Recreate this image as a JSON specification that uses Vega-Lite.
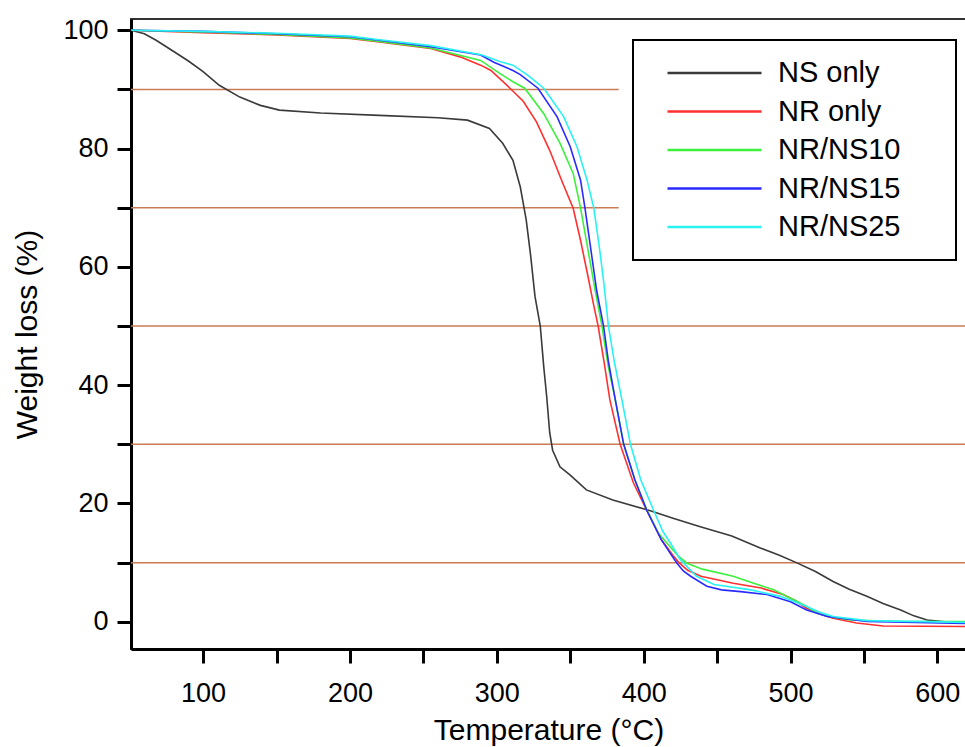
{
  "$schema": "https://vega.github.io/schema/vega-lite/v6.json",
  "width": 835,
  "height": 630,
  "autosize": "none",
  "padding": {"left": 131, "top": 19, "right": 0, "bottom": 98},
  "background": "white",
  "config": {
    "font": "Liberation Sans",
    "view": {"stroke": "#333333", "strokeWidth": 2}
  },
  "datasets": {
    "guides": [
      {"level": 90, "from": 50.9, "to": 383},
      {"level": 70, "from": 50.9, "to": 383},
      {"level": 50, "from": 50.9, "to": 619.5},
      {"level": 30, "from": 50.9, "to": 619.5},
      {"level": 10, "from": 50.9, "to": 619.5}
    ],
    "tga": [
      {"series": "NS only", "temp": 51, "weight": 100},
      {"series": "NS only", "temp": 60, "weight": 99.4},
      {"series": "NS only", "temp": 68, "weight": 98.3},
      {"series": "NS only", "temp": 80, "weight": 96.4},
      {"series": "NS only", "temp": 90, "weight": 94.8},
      {"series": "NS only", "temp": 100, "weight": 93.0},
      {"series": "NS only", "temp": 111, "weight": 90.7},
      {"series": "NS only", "temp": 125, "weight": 88.7},
      {"series": "NS only", "temp": 139, "weight": 87.3},
      {"series": "NS only", "temp": 152, "weight": 86.5},
      {"series": "NS only", "temp": 180, "weight": 86.0},
      {"series": "NS only", "temp": 220, "weight": 85.6},
      {"series": "NS only", "temp": 260, "weight": 85.2},
      {"series": "NS only", "temp": 280, "weight": 84.8},
      {"series": "NS only", "temp": 295, "weight": 83.4},
      {"series": "NS only", "temp": 304, "weight": 80.9},
      {"series": "NS only", "temp": 311, "weight": 78.0},
      {"series": "NS only", "temp": 316, "weight": 73.5},
      {"series": "NS only", "temp": 320, "weight": 68.0},
      {"series": "NS only", "temp": 323, "weight": 62.0},
      {"series": "NS only", "temp": 326, "weight": 55.0},
      {"series": "NS only", "temp": 329.6, "weight": 50.0},
      {"series": "NS only", "temp": 332, "weight": 43.0},
      {"series": "NS only", "temp": 334, "weight": 38.0},
      {"series": "NS only", "temp": 336, "weight": 32.0},
      {"series": "NS only", "temp": 338, "weight": 29.0},
      {"series": "NS only", "temp": 343, "weight": 26.2},
      {"series": "NS only", "temp": 350, "weight": 24.8},
      {"series": "NS only", "temp": 361, "weight": 22.3},
      {"series": "NS only", "temp": 379, "weight": 20.6},
      {"series": "NS only", "temp": 404, "weight": 18.8},
      {"series": "NS only", "temp": 420, "weight": 17.5},
      {"series": "NS only", "temp": 438, "weight": 16.1},
      {"series": "NS only", "temp": 460, "weight": 14.5},
      {"series": "NS only", "temp": 479, "weight": 12.5},
      {"series": "NS only", "temp": 492, "weight": 11.3},
      {"series": "NS only", "temp": 504, "weight": 10.0},
      {"series": "NS only", "temp": 517, "weight": 8.5},
      {"series": "NS only", "temp": 529, "weight": 6.8},
      {"series": "NS only", "temp": 540, "weight": 5.5},
      {"series": "NS only", "temp": 552, "weight": 4.3},
      {"series": "NS only", "temp": 563, "weight": 3.1},
      {"series": "NS only", "temp": 575, "weight": 2.0},
      {"series": "NS only", "temp": 584, "weight": 1.0},
      {"series": "NS only", "temp": 593, "weight": 0.3},
      {"series": "NS only", "temp": 605, "weight": 0.0},
      {"series": "NS only", "temp": 619, "weight": -0.2},

      {"series": "NR only", "temp": 51, "weight": 100},
      {"series": "NR only", "temp": 100, "weight": 99.6},
      {"series": "NR only", "temp": 150, "weight": 99.2},
      {"series": "NR only", "temp": 200, "weight": 98.6},
      {"series": "NR only", "temp": 220, "weight": 98.0},
      {"series": "NR only", "temp": 255, "weight": 96.9},
      {"series": "NR only", "temp": 275, "weight": 95.5},
      {"series": "NR only", "temp": 289, "weight": 94.1},
      {"series": "NR only", "temp": 296, "weight": 93.2},
      {"series": "NR only", "temp": 309, "weight": 90.2},
      {"series": "NR only", "temp": 318, "weight": 88.0},
      {"series": "NR only", "temp": 327, "weight": 84.5},
      {"series": "NR only", "temp": 336, "weight": 79.7},
      {"series": "NR only", "temp": 345, "weight": 74.1},
      {"series": "NR only", "temp": 352, "weight": 69.9},
      {"series": "NR only", "temp": 357, "weight": 64.5},
      {"series": "NR only", "temp": 362, "weight": 58.5},
      {"series": "NR only", "temp": 366, "weight": 53.5},
      {"series": "NR only", "temp": 369, "weight": 50.0},
      {"series": "NR only", "temp": 373, "weight": 44.0},
      {"series": "NR only", "temp": 377, "weight": 37.5},
      {"series": "NR only", "temp": 384, "weight": 30.0},
      {"series": "NR only", "temp": 393, "weight": 23.5},
      {"series": "NR only", "temp": 402, "weight": 18.9},
      {"series": "NR only", "temp": 412, "weight": 13.9},
      {"series": "NR only", "temp": 420, "weight": 11.2},
      {"series": "NR only", "temp": 424, "weight": 10.0},
      {"series": "NR only", "temp": 430, "weight": 8.7},
      {"series": "NR only", "temp": 439, "weight": 7.7},
      {"series": "NR only", "temp": 461, "weight": 6.5},
      {"series": "NR only", "temp": 480, "weight": 5.7},
      {"series": "NR only", "temp": 495, "weight": 4.6},
      {"series": "NR only", "temp": 503, "weight": 3.6},
      {"series": "NR only", "temp": 511, "weight": 2.3},
      {"series": "NR only", "temp": 520, "weight": 1.3},
      {"series": "NR only", "temp": 529, "weight": 0.6},
      {"series": "NR only", "temp": 545, "weight": -0.2},
      {"series": "NR only", "temp": 563, "weight": -0.7},
      {"series": "NR only", "temp": 619, "weight": -0.8},

      {"series": "NR/NS10", "temp": 51, "weight": 100},
      {"series": "NR/NS10", "temp": 100, "weight": 99.7},
      {"series": "NR/NS10", "temp": 150, "weight": 99.3},
      {"series": "NR/NS10", "temp": 200, "weight": 98.7},
      {"series": "NR/NS10", "temp": 220, "weight": 98.1},
      {"series": "NR/NS10", "temp": 255, "weight": 97.0},
      {"series": "NR/NS10", "temp": 289, "weight": 94.9},
      {"series": "NR/NS10", "temp": 302, "weight": 92.7},
      {"series": "NR/NS10", "temp": 311, "weight": 91.3},
      {"series": "NR/NS10", "temp": 319, "weight": 90.2},
      {"series": "NR/NS10", "temp": 332, "weight": 85.9},
      {"series": "NR/NS10", "temp": 343, "weight": 80.9},
      {"series": "NR/NS10", "temp": 352, "weight": 75.8},
      {"series": "NR/NS10", "temp": 357, "weight": 70.0},
      {"series": "NR/NS10", "temp": 362, "weight": 63.0},
      {"series": "NR/NS10", "temp": 367, "weight": 56.0},
      {"series": "NR/NS10", "temp": 371.6, "weight": 50.0},
      {"series": "NR/NS10", "temp": 376, "weight": 43.0},
      {"series": "NR/NS10", "temp": 380.7, "weight": 37.5},
      {"series": "NR/NS10", "temp": 386.4, "weight": 30.0},
      {"series": "NR/NS10", "temp": 394, "weight": 24.0},
      {"series": "NR/NS10", "temp": 402, "weight": 19.0},
      {"series": "NR/NS10", "temp": 410, "weight": 15.0},
      {"series": "NR/NS10", "temp": 418, "weight": 12.7},
      {"series": "NR/NS10", "temp": 424, "weight": 11.0},
      {"series": "NR/NS10", "temp": 429.5, "weight": 9.9},
      {"series": "NR/NS10", "temp": 440, "weight": 8.9},
      {"series": "NR/NS10", "temp": 461, "weight": 7.7},
      {"series": "NR/NS10", "temp": 475, "weight": 6.5},
      {"series": "NR/NS10", "temp": 488.5, "weight": 5.4},
      {"series": "NR/NS10", "temp": 497.6, "weight": 4.3},
      {"series": "NR/NS10", "temp": 504, "weight": 3.5},
      {"series": "NR/NS10", "temp": 511, "weight": 2.6},
      {"series": "NR/NS10", "temp": 518, "weight": 1.5},
      {"series": "NR/NS10", "temp": 528, "weight": 0.8},
      {"series": "NR/NS10", "temp": 541, "weight": 0.3},
      {"series": "NR/NS10", "temp": 575, "weight": 0.05},
      {"series": "NR/NS10", "temp": 619, "weight": 0.05},

      {"series": "NR/NS15", "temp": 51, "weight": 100},
      {"series": "NR/NS15", "temp": 100, "weight": 99.8},
      {"series": "NR/NS15", "temp": 150, "weight": 99.4},
      {"series": "NR/NS15", "temp": 200, "weight": 98.9},
      {"series": "NR/NS15", "temp": 220, "weight": 98.3},
      {"series": "NR/NS15", "temp": 255, "weight": 97.2},
      {"series": "NR/NS15", "temp": 289, "weight": 95.8},
      {"series": "NR/NS15", "temp": 298, "weight": 94.6},
      {"series": "NR/NS15", "temp": 311, "weight": 93.2},
      {"series": "NR/NS15", "temp": 316, "weight": 92.5},
      {"series": "NR/NS15", "temp": 328, "weight": 90.2},
      {"series": "NR/NS15", "temp": 341, "weight": 85.4},
      {"series": "NR/NS15", "temp": 350, "weight": 80.3},
      {"series": "NR/NS15", "temp": 357, "weight": 74.7},
      {"series": "NR/NS15", "temp": 360, "weight": 70.0},
      {"series": "NR/NS15", "temp": 364, "weight": 63.0},
      {"series": "NR/NS15", "temp": 368, "weight": 56.0},
      {"series": "NR/NS15", "temp": 372.7, "weight": 50.0},
      {"series": "NR/NS15", "temp": 376, "weight": 44.0},
      {"series": "NR/NS15", "temp": 380.7, "weight": 37.5},
      {"series": "NR/NS15", "temp": 386.4, "weight": 30.0},
      {"series": "NR/NS15", "temp": 394, "weight": 24.0},
      {"series": "NR/NS15", "temp": 402, "weight": 18.9},
      {"series": "NR/NS15", "temp": 412, "weight": 13.9},
      {"series": "NR/NS15", "temp": 418, "weight": 11.6},
      {"series": "NR/NS15", "temp": 422.7, "weight": 9.9},
      {"series": "NR/NS15", "temp": 427, "weight": 8.6},
      {"series": "NR/NS15", "temp": 432, "weight": 7.7},
      {"series": "NR/NS15", "temp": 443, "weight": 6.0},
      {"series": "NR/NS15", "temp": 453, "weight": 5.4},
      {"series": "NR/NS15", "temp": 466, "weight": 5.1},
      {"series": "NR/NS15", "temp": 484, "weight": 4.6},
      {"series": "NR/NS15", "temp": 500, "weight": 3.4},
      {"series": "NR/NS15", "temp": 511, "weight": 2.0},
      {"series": "NR/NS15", "temp": 525, "weight": 0.9},
      {"series": "NR/NS15", "temp": 552, "weight": 0.05},
      {"series": "NR/NS15", "temp": 619, "weight": -0.3},

      {"series": "NR/NS25", "temp": 51, "weight": 100},
      {"series": "NR/NS25", "temp": 100, "weight": 99.8},
      {"series": "NR/NS25", "temp": 150, "weight": 99.5},
      {"series": "NR/NS25", "temp": 200, "weight": 99.0},
      {"series": "NR/NS25", "temp": 220, "weight": 98.4},
      {"series": "NR/NS25", "temp": 255, "weight": 97.4},
      {"series": "NR/NS25", "temp": 290, "weight": 95.8},
      {"series": "NR/NS25", "temp": 302, "weight": 94.7},
      {"series": "NR/NS25", "temp": 311, "weight": 94.1},
      {"series": "NR/NS25", "temp": 321, "weight": 92.4},
      {"series": "NR/NS25", "temp": 332, "weight": 90.2},
      {"series": "NR/NS25", "temp": 345.5, "weight": 85.4},
      {"series": "NR/NS25", "temp": 354.6, "weight": 80.3},
      {"series": "NR/NS25", "temp": 361.4, "weight": 74.7},
      {"series": "NR/NS25", "temp": 366, "weight": 70.0},
      {"series": "NR/NS25", "temp": 370, "weight": 63.0},
      {"series": "NR/NS25", "temp": 373, "weight": 57.0},
      {"series": "NR/NS25", "temp": 376, "weight": 50.0},
      {"series": "NR/NS25", "temp": 380, "weight": 44.0},
      {"series": "NR/NS25", "temp": 385.2, "weight": 37.5},
      {"series": "NR/NS25", "temp": 391, "weight": 30.0},
      {"series": "NR/NS25", "temp": 398, "weight": 24.0},
      {"series": "NR/NS25", "temp": 406.7, "weight": 18.9},
      {"series": "NR/NS25", "temp": 413, "weight": 15.3},
      {"series": "NR/NS25", "temp": 418, "weight": 13.4},
      {"series": "NR/NS25", "temp": 425, "weight": 10.5},
      {"series": "NR/NS25", "temp": 430, "weight": 9.2},
      {"series": "NR/NS25", "temp": 436, "weight": 7.7},
      {"series": "NR/NS25", "temp": 448, "weight": 6.3},
      {"series": "NR/NS25", "temp": 473, "weight": 5.4},
      {"series": "NR/NS25", "temp": 493, "weight": 4.3},
      {"series": "NR/NS25", "temp": 503, "weight": 3.4},
      {"series": "NR/NS25", "temp": 511, "weight": 2.6},
      {"series": "NR/NS25", "temp": 520, "weight": 1.6},
      {"series": "NR/NS25", "temp": 529, "weight": 0.9},
      {"series": "NR/NS25", "temp": 552, "weight": 0.2},
      {"series": "NR/NS25", "temp": 619, "weight": -0.1}
    ]
  },
  "layer": [
    {
      "data": {"name": "guides"},
      "mark": {"type": "rule", "color": "#c97b55", "strokeWidth": 1.5},
      "encoding": {
        "y": {"field": "level", "type": "quantitative"},
        "x": {"field": "from", "type": "quantitative"},
        "x2": {"field": "to"}
      }
    },
    {
      "data": {"name": "tga"},
      "mark": {"type": "line", "strokeWidth": 1.6, "clip": true},
      "encoding": {
        "x": {
          "field": "temp",
          "type": "quantitative",
          "scale": {"domain": [50.9, 619.5], "nice": false, "zero": false},
          "axis": {
            "title": "Temperature (°C)",
            "values": [100, 150, 200, 250, 300, 350, 400, 450, 500, 550, 600],
            "labelExpr": "datum.value % 100 === 0 ? datum.label : ''",
            "grid": false,
            "domainColor": "black",
            "domainWidth": 3,
            "tickColor": "black",
            "tickWidth": 3,
            "tickSize": 14,
            "labelFontSize": 27,
            "labelColor": "black",
            "labelPadding": 17,
            "labelFlush": false,
            "titleFontSize": 30,
            "titleFontWeight": "normal",
            "titleColor": "black",
            "titlePadding": 9
          }
        },
        "y": {
          "field": "weight",
          "type": "quantitative",
          "scale": {"domain": [-4.6, 101.9], "nice": false, "zero": false},
          "axis": {
            "title": "Weight loss (%)",
            "values": [0, 10, 20, 30, 40, 50, 60, 70, 80, 90, 100],
            "labelExpr": "datum.value % 20 === 0 ? datum.label : ''",
            "grid": false,
            "domainColor": "black",
            "domainWidth": 3,
            "tickColor": "black",
            "tickWidth": 3,
            "tickSize": 14,
            "labelFontSize": 27,
            "labelColor": "black",
            "labelPadding": 9,
            "labelFlush": false,
            "titleFontSize": 30,
            "titleFontWeight": "normal",
            "titleColor": "black",
            "titlePadding": 20
          }
        },
        "color": {
          "field": "series",
          "type": "nominal",
          "scale": {
            "domain": ["NS only", "NR only", "NR/NS10", "NR/NS15", "NR/NS25"],
            "range": ["#3a3a3a", "#ff3030", "#3cf03c", "#2a2aff", "#2af2f2"]
          },
          "legend": {
            "title": "\u00a0",
            "titleOrient": "right",
            "titlePadding": 38,
            "titleFontSize": 29,
            "orient": "none",
            "legendX": 502,
            "legendY": 21,
            "strokeColor": "black",
            "fillColor": "white",
            "padding": 18,
            "symbolType": "stroke",
            "symbolSize": 8836,
            "clipHeight": 30,
            "rowPadding": 8.5,
            "symbolOffset": 15,
            "labelOffset": 15,
            "labelFontSize": 29,
            "labelColor": "black",
            "labelLimit": 400,
            "encode": {
              "legend": {"update": {"strokeWidth": {"value": 2}}},
              "symbols": {
                "update": {
                  "strokeWidth": {"value": 2.5},
                  "stroke": {"signal": "datum.label === 'NS only' ? '#7a7a7a' : scale('color', datum.value)"}
                }
              }
            }
          }
        }
      }
    }
  ]
}
